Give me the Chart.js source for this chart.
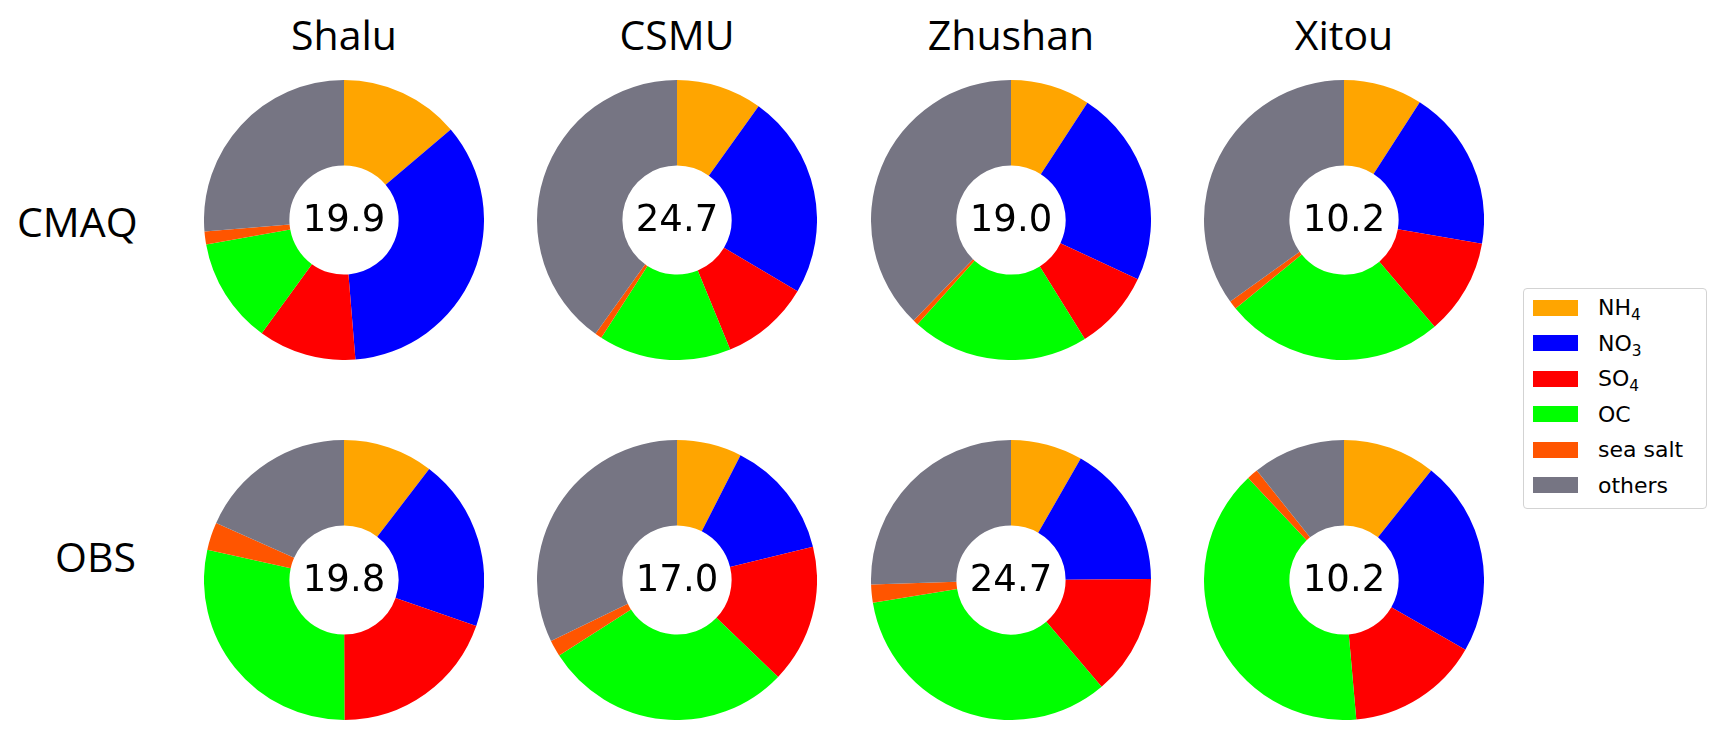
<!DOCTYPE html>
<html>
<head>
<meta charset="utf-8">
<script src="https://cdn.jsdelivr.net/npm/chart.js@4.4.1/dist/chart.umd.min.js"></script>
<style>
  body { margin: 0; background: #fff; }
  #page { position: relative; width: 1715px; height: 739px; overflow: hidden; }
  .pie { position: absolute; width: 280px; height: 280px; }
  .txt { position: absolute; font-family: "Open Sans", sans-serif; font-size: 41px; line-height: 41px; color: #000; white-space: nowrap; }
  .title { transform: translateX(-50%); }
  #legend { position: absolute; left: 1523px; top: 288px; width: 182px; height: 218px; border: 1px solid #d3d3d3; border-radius: 4px; padding-top: 1px; box-sizing: content-box; font-family: "DejaVu Sans", sans-serif; font-size: 22px; }
  .row { height: 35.5px; display: flex; align-items: center; }
  .sw { width: 45px; height: 16px; margin-left: 9px; margin-right: 20px; }
  sub { font-size: 70%; vertical-align: -0.3em; line-height: 0; }
</style>
</head>
<body>
<div id="page"></div>
<script>
// sites (columns) and data sources (rows)
const sites = ['Shalu', 'CSMU', 'Zhushan', 'Xitou'];
const sources = ['CMAQ', 'OBS'];
const species = ['NH4', 'NO3', 'SO4', 'OC', 'sea salt', 'others'];
const colors = ['#ffa500', '#0000ff', '#ff0000', '#00ff00', '#ff5500', '#767583'];

// total PM2.5 shown in the middle of each ring
const totalCMAQ = [19.9, 24.7, 19.0, 10.2];
const totalOBS = [19.8, 17.0, 24.7, 10.2];

// species share (%) read from the rings
const cmaqShalu   = [13.8, 34.9, 11.3, 12.2, 1.5, 26.3];
const cmaqCSMU    = [9.9, 23.6, 10.3, 15.3, 0.8, 40.1];
const cmaqZhushan = [9.2, 22.8, 9.2, 20.5, 0.6, 37.8];
const cmaqXitou   = [9.1, 18.6, 11.1, 25.3, 1.0, 34.9];
const obsShalu    = [10.4, 19.9, 19.6, 28.5, 3.2, 18.3];
const obsCSMU     = [7.5, 13.7, 16.0, 28.8, 1.9, 32.2];
const obsZhushan  = [8.3, 16.6, 13.9, 33.6, 2.1, 25.5];
const obsXitou    = [10.7, 22.6, 15.3, 39.4, 1.3, 10.7];

const shares = [
  [cmaqShalu, cmaqCSMU, cmaqZhushan, cmaqXitou],
  [obsShalu, obsCSMU, obsZhushan, obsXitou]
];
const totals = [totalCMAQ, totalOBS];

const page = document.getElementById('page');
const colX = [344, 677, 1011, 1344];
const rowY = [219.5, 580];

// center number plugin
const centerText = {
  id: 'centerText',
  afterDraw(chart, args, opts) {
    const ctx = chart.ctx;
    const a = chart.chartArea;
    ctx.save();
    ctx.font = '37px "DejaVu Sans"';
    ctx.fillStyle = '#000';
    ctx.textAlign = 'center';
    ctx.textBaseline = 'middle';
    ctx.fillText(opts.text, (a.left + a.right) / 2, (a.top + a.bottom) / 2 + 1);
    ctx.restore();
  }
};

for (var r = 0; r < sources.length; r++) {
  for (var c = 0; c < sites.length; c++) {
    var div = document.createElement('div');
    div.className = 'pie';
    div.style.left = (colX[c] - 140) + 'px';
    div.style.top = (rowY[r] - 140) + 'px';
    var cv = document.createElement('canvas');
    cv.width = 280; cv.height = 280;
    div.appendChild(cv);
    page.appendChild(div);

    new Chart(cv, {
      type: 'doughnut',
      data: {
        labels: species,
        datasets: [{
          data: shares[r][c],
          backgroundColor: colors,
          borderWidth: 0,
          hoverOffset: 0,
          offset: 0
        }]
      },
      options: {
        responsive: false,
        animation: false,
        events: [],
        cutout: '39%',
        layout: { padding: 0 },
        plugins: {
          legend: { display: false },
          tooltip: { enabled: false },
          centerText: { text: totals[r][c].toFixed(1) }
        }
      },
      plugins: [centerText]
    });
  }
}

// column titles
for (var c = 0; c < sites.length; c++) {
  var t = document.createElement('div');
  t.className = 'txt title';
  t.style.left = colX[c] + 'px';
  t.style.top = '14px';
  t.textContent = sites[c];
  page.appendChild(t);
}

// row labels
var rowLeft = [17, 55];
var rowTop = [201, 536];
for (var r = 0; r < sources.length; r++) {
  var l = document.createElement('div');
  l.className = 'txt';
  l.style.left = rowLeft[r] + 'px';
  l.style.top = rowTop[r] + 'px';
  l.textContent = sources[r];
  page.appendChild(l);
}

// legend
var lg = document.createElement('div');
lg.id = 'legend';
for (var i = 0; i < species.length; i++) {
  var row = document.createElement('div');
  row.className = 'row';
  var sw = document.createElement('div');
  sw.className = 'sw';
  sw.style.background = colors[i];
  var lab = document.createElement('span');
  lab.innerHTML = species[i].replace(/(\d)/g, '<sub>$1</sub>');
  row.appendChild(sw);
  row.appendChild(lab);
  lg.appendChild(row);
}
page.appendChild(lg);
</script>
</body>
</html>
